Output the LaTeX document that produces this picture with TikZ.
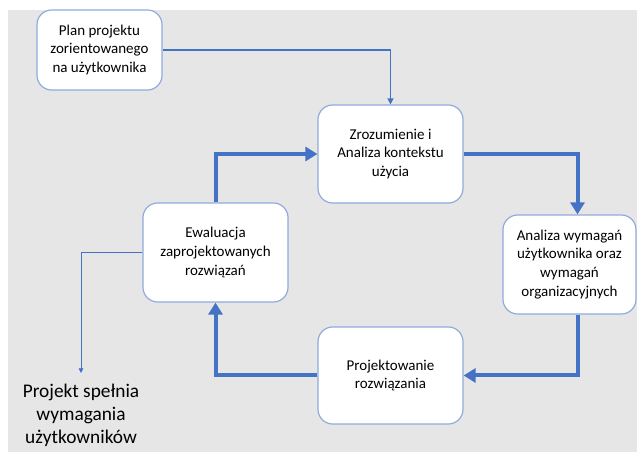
\documentclass[tikz,border=0pt]{standalone}
\usepackage{fontspec}
\setmainfont{Carlito}
\usetikzlibrary{arrows.meta,positioning,calc}
\definecolor{CycleGray}{HTML}{E7E6E6}
\definecolor{CycleBlue}{HTML}{4472C4}
\definecolor{CycleEdge}{HTML}{8FAADC}
\begin{document}
\begin{tikzpicture}[x=0.75pt,y=-0.75pt,
  phase/.style={draw=CycleEdge,line width=0.9pt,rounded corners=11pt,fill=white,align=center,
    font=\fontsize{11.25pt}{14.2pt}\selectfont,inner sep=2pt},
  loop/.style={-{Triangle[length=9pt,width=10.5pt]},line width=3pt,CycleBlue},
  feed/.style={-{Triangle[length=4.5pt,width=4.5pt]},line width=1.1pt,CycleBlue},
  exit/.style={-{Triangle[length=3.5pt,width=3.5pt]},line width=0.6pt,CycleBlue},
  outcome/.style={align=center,inner sep=0pt,font=\fontsize{14.5pt}{17.3pt}\selectfont}]
\useasboundingbox (0,0) rectangle (637,452);
\fill[CycleGray] (8,10) rectangle (637,452);
% Process boxes
\node[phase,minimum width=93.75pt,minimum height=60pt] (plan) at (99.5,50) {Plan projektu\\zorientowanego\\na użytkownika};
\node[phase,minimum width=108.75pt,minimum height=73.5pt] (context) at (390.5,154) {Zrozumienie i\\Analiza kontekstu\\użycia};
\node[phase,minimum width=99.75pt,minimum height=74.25pt] (reqs) at (569.5,264.5) {Analiza wymagań\\użytkownika oraz\\wymagań\\organizacyjnych};
\node[phase,minimum width=108.75pt,minimum height=72.75pt] (design) at (390.5,375.5) {Projektowanie\\rozwiązania};
\node[phase,minimum width=108.75pt,minimum height=74.25pt] (eval) at (215.5,252.5) {Ewaluacja\\zaprojektowanych\\rozwiązań};
\node[outcome] (result) at (81,415) {Projekt spełnia\\wymagania\\użytkowników};
\coordinate (drop) at (81,373);
% Connectors
\draw[feed] (plan.east)-|(context.north);
\draw[loop] (context.east)-|($(reqs.north)+(8,0)$);
\draw[loop] ($(reqs.south)+(8,0)$)|-(design.east);
\draw[loop] (design.west)-|(eval.south);
\draw[loop] (eval.north)|-(context.west);
\draw[exit] (eval.west)-|(drop);
\end{tikzpicture}
\end{document}
